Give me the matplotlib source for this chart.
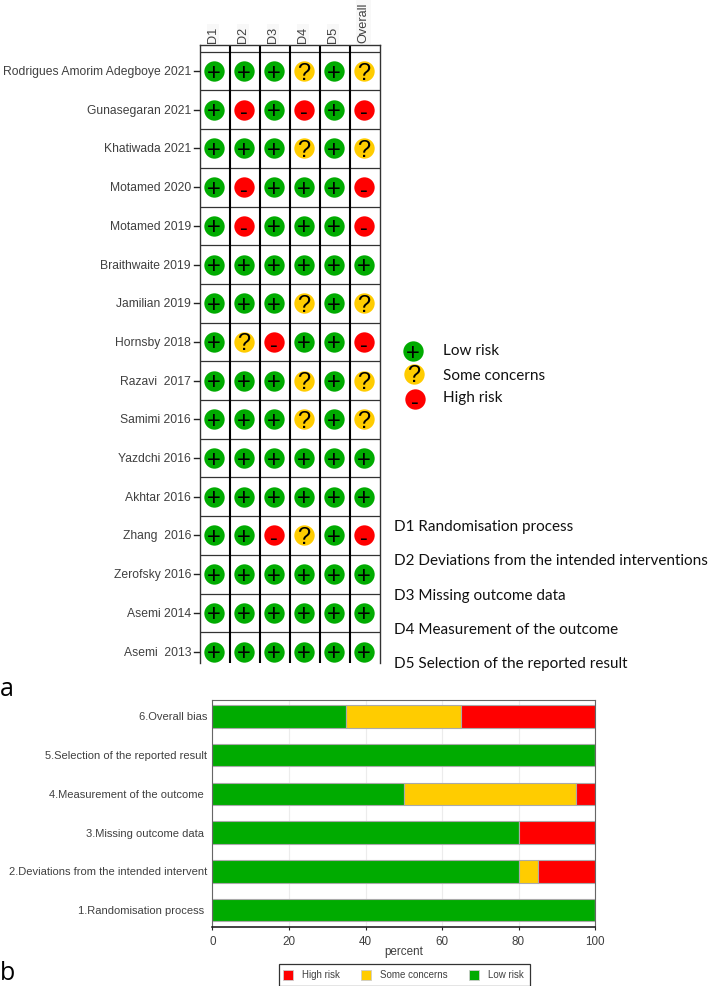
import matplotlib
matplotlib.use("Agg")
import matplotlib.pyplot as plt
from matplotlib.patches import Rectangle

W, H = 709, 986
GREEN = "#00ab00"
YELLOW = "#ffcc00"
RED = "#ff0000"
GREY_TXT = "#404040"
NOTE_FONT = ["Lato", "DejaVu Sans"]

studies = [
    "Rodrigues Amorim Adegboye 2021", "Gunasegaran 2021", "Khatiwada 2021",
    "Motamed 2020", "Motamed 2019", "Braithwaite 2019", "Jamilian 2019",
    "Hornsby 2018", "Razavi  2017", "Samimi 2016", "Yazdchi 2016",
    "Akhtar 2016", "Zhang  2016", "Zerofsky 2016", "Asemi 2014", "Asemi  2013",
]
domains = ["D1", "D2", "D3", "D4", "D5", "Overall"]
# + low, ? some concerns, - high
judgements = [
    "+++?+?", "+-+-+-", "+++?+?", "+-+++-", "+-+++-", "++++++",
    "+++?+?", "+?-++-", "+++?+?", "+++?+?", "++++++", "++++++",
    "++-?+-", "++++++", "++++++", "++++++",
]
legend_labels = ["Low risk", "Some concerns", "High risk"]
domain_notes = [
    "D1 Randomisation process",
    "D2 Deviations from the intended interventions",
    "D3 Missing outcome data",
    "D4 Measurement of the outcome",
    "D5 Selection of the reported result",
]

bar_labels = [
    "1.Randomisation process ", "2.Deviations from the intended intervent",
    "3.Missing outcome data ", "4.Measurement of the outcome ",
    "5.Selection of the reported result", "6.Overall bias",
]
low = [100, 80, 80, 50, 100, 35]
some = [0, 5, 0, 45, 0, 30]
high = [0, 15, 20, 5, 0, 35]
x_ticks = [0, 20, 40, 60, 80, 100]

colour = {"+": GREEN, "?": YELLOW, "-": RED}
# glyph shift in points so each sign sits on its disc like the reference
glyph_dy = {"+": -1.8, "?": -1.8, "-": -2.6}

plt.rcParams["font.family"] = ["Liberation Sans", "DejaVu Sans"]
fig = plt.figure(figsize=(W / 100, H / 100), dpi=100, facecolor="white")


def px_axes(x0, y0, x1, y1):
    return fig.add_axes([x0 / W, 1 - y1 / H, (x1 - x0) / W, (y1 - y0) / H])


bg = fig.add_axes([0, 0, 1, 1])
bg.set_xlim(0, W)
bg.set_ylim(H, 0)
bg.axis("off")


def draw_symbol(ax, x, y, code):
    ax.scatter([x], [y], s=215, color=colour[code], linewidths=0, zorder=3, clip_on=False)
    ax.annotate(code, (x, y), xytext=(0, glyph_dy[code]), textcoords="offset points",
                ha="center", va="center", fontsize=17, color="black", zorder=4)


# traffic light grid, one unit per study / domain
ROW = 38.7
GRID_L, GRID_R, GRID_T, GRID_B = 199.5, 380, 45, 663
ROW0 = 51.7
grid = px_axes(GRID_L, GRID_T, GRID_R, GRID_B)
grid.set_xlim(0, len(domains))
grid.set_ylim((GRID_B - ROW0) / ROW, (GRID_T - ROW0) / ROW)
for i, row in enumerate(judgements):
    for j, code in enumerate(row):
        draw_symbol(grid, j + 0.47, i + 0.5, code)
grid.set_xticks([])
grid.set_yticks([])
grid.tick_params(left=False, bottom=False, labelleft=False, labelbottom=False)
grid.spines["bottom"].set_visible(False)
for side in ["top", "left", "right"]:
    grid.spines[side].set_linewidth(1.0)
    grid.spines[side].set_color("#333333")
for i in range(len(studies)):
    grid.axhline(i, color="#333333", lw=0.9, zorder=1)
for j in range(1, len(domains)):
    grid.axvline(j, color="black", lw=1.5, zorder=2)

cell_w = (GRID_R - GRID_L) / len(domains)
for j, d in enumerate(domains):
    x = GRID_L + (j + 0.47) * cell_w - 1
    tall = 44 if d == "Overall" else 20
    half = 7.5 if d == "Overall" else 6
    bg.add_patch(Rectangle((x - half, 44 - tall), 2 * half, tall, fc="#f8f8f8", ec="none"))
    bg.text(x, 43, d, rotation=90, ha="center", va="bottom", fontsize=9.2, color=GREY_TXT)
for i, s in enumerate(studies):
    y = ROW0 + (i + 0.5) * ROW
    bg.text(191, y + 1, s, ha="right", va="center", fontsize=8.7, color=GREY_TXT)
    bg.plot([194, 199], [y, y], color="#222222", lw=1.0)

# risk key
key_pos = [(413, 351), (413.5, 374), (414.5, 399)]
key_text_y = [351, 376, 398]
for (x, y), ty, code, lab in zip(key_pos, key_text_y, "+?-", legend_labels):
    draw_symbol(bg, x, y, code)
    bg.text(443, ty, lab, ha="left", va="center", fontsize=11,
            family=NOTE_FONT, color="#111111")

for n, note in enumerate(domain_notes):
    bg.text(394, 527 + n * 34.3, note, ha="left", va="center", fontsize=11,
            family=NOTE_FONT, color="#111111")

bg.text(0, 689, "a", ha="left", va="center", fontsize=18, family=["Open Sans", "DejaVu Sans"])
bg.text(0, 974, "b", ha="left", va="center", fontsize=18, family=["Open Sans", "DejaVu Sans"])

# summary bars
ax = px_axes(212.5, 700, 595, 926.7)
ypos = list(range(len(bar_labels)))
edge = "#aaaaaa"
ax.barh(ypos, low, height=0.58, color=GREEN, edgecolor=edge, lw=0.8, zorder=2)
ax.barh(ypos, some, height=0.58, left=low, color=YELLOW, edgecolor=edge, lw=0.8, zorder=2)
left2 = [a + b for a, b in zip(low, some)]
ax.barh(ypos, high, height=0.58, left=left2, color=RED, edgecolor=edge, lw=0.8, zorder=2)
ax.set_xlim(0, 100)
ax.set_ylim(-0.43, 5.42)
ax.set_xticks(x_ticks)
ax.set_yticks(ypos)
ax.set_yticklabels(bar_labels, fontsize=8.0, color=GREY_TXT, va="center_baseline")
ax.tick_params(axis="y", length=0, pad=4)
ax.tick_params(axis="x", labelsize=8.4, labelcolor=GREY_TXT, length=2.5, color="#222222", pad=4.5)
ax.grid(axis="x", color="#ececec", lw=0.8, zorder=0)
ax.set_xlabel("percent", fontsize=8.4, color=GREY_TXT, labelpad=-2)
for side in ["top", "left", "right"]:
    ax.spines[side].set_color("#666666")
ax.spines["bottom"].set_color("#111111")
ax.spines["bottom"].set_linewidth(1.1)

# bar legend box
bg.add_patch(Rectangle((278.5, 964), 251, 21.5, fc="white", ec="#333333", lw=0.9))
for x, c, lab in [(288, RED, "High risk"), (366, YELLOW, "Some concerns"), (474, GREEN, "Low risk")]:
    bg.add_patch(Rectangle((x - 5, 969.5), 10, 10.5, fc=c, ec="#cccccc", lw=0.6))
    bg.text(x + 14, 975, lab, ha="left", va="center", fontsize=7.0, color=GREY_TXT)

fig.savefig("out.png", dpi=100)
